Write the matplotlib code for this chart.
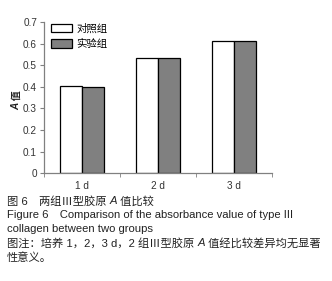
import numpy as np
import matplotlib
matplotlib.use("Agg")
import matplotlib.pyplot as plt

plt.rcParams['font.family'] = ['Liberation Sans', 'Noto Sans CJK SC', 'DejaVu Sans']

# data
days = ["1 d", "2 d", "3 d"]
control = [0.403, 0.532, 0.611]
experiment = [0.400, 0.536, 0.611]
series_names = ["对照组", "实验组"]
yticks = [0, 0.1, 0.2, 0.3, 0.4, 0.5, 0.6, 0.7]

fig = plt.figure(figsize=(3.32, 2.81), dpi=100)
ax = fig.add_axes([0.1325, 0.384, 0.687, 0.537])
renderer = fig.canvas.get_renderer()


def seg_text(x0, y0, parts, rotation=0, **kw):
    # draw text pieces one after another, italic where asked
    inv = fig.transFigure.inverted()
    pos = [x0, y0]
    for s, italic in parts:
        t = fig.text(pos[0], pos[1], s, rotation=rotation,
                     style="italic" if italic else "normal", **kw)
        bb = t.get_window_extent(renderer)
        bb = bb.transformed(inv)
        if rotation == 0:
            pos[0] += bb.width
        else:
            pos[1] += bb.height


x = np.arange(len(days))
w = 0.29
ax.bar(x - w / 2, control, w, color="white", edgecolor="black", linewidth=0.9, label=series_names[0])
ax.bar(x + w / 2, experiment, w, color="#808080", edgecolor="black", linewidth=0.9, label=series_names[1])

ax.set_xlim(-0.5, len(days) - 0.5)
ax.set_ylim(0, 0.7)
ax.set_yticks(yticks)
ax.set_yticklabels(["0"] + ["%.1f" % v for v in yticks[1:]])
ax.set_xticks(x)
ax.set_xticklabels(days)
# ticks between categories
ax.set_xticks(np.arange(-0.5, len(days)), minor=True)
ax.tick_params(axis="x", which="major", length=0, pad=6)
ax.tick_params(axis="x", which="minor", length=3, direction="out", color="#808080")
ax.tick_params(axis="y", length=3, direction="out", color="#808080", pad=2)
ax.tick_params(labelsize=7.2, labelcolor="#333333")

for s in ["top", "right"]:
    ax.spines[s].set_visible(False)
for s in ["left", "bottom"]:
    ax.spines[s].set_color("#808080")
    ax.spines[s].set_linewidth(0.9)

# y label: italic A + 值
seg_text(0.05, 0.607, [("A", True), (" 值", False)], rotation=90,
         fontsize=7.2, fontweight="bold", ha="center", va="bottom", color="#222222")

leg = ax.legend(loc="upper left", bbox_to_anchor=(0.0, 1.04), frameon=False,
                fontsize=7.5, handlelength=2.0, handleheight=0.9,
                labelspacing=0.5, handletextpad=0.4, borderaxespad=0.3)

# caption
kw = dict(fontsize=8.1, va="center", color="#222222")
seg_text(0.021, 0.283, [("图 6　两组Ⅲ型胶原 ", False), ("A", True), (" 值比较", False)], **kw)
fig.text(0.021, 0.235, "Figure 6　Comparison of the absorbance value of type III", **kw)
fig.text(0.021, 0.185, "collagen between two groups", **kw)
seg_text(0.021, 0.135, [("图注：培养 1，2，3 d，2 组Ⅲ型胶原 ", False), ("A", True),
                        (" 值经比较差异均无显著", False)], **kw)
fig.text(0.021, 0.083, "性意义。", **kw)

fig.savefig("out.png", dpi=100)
